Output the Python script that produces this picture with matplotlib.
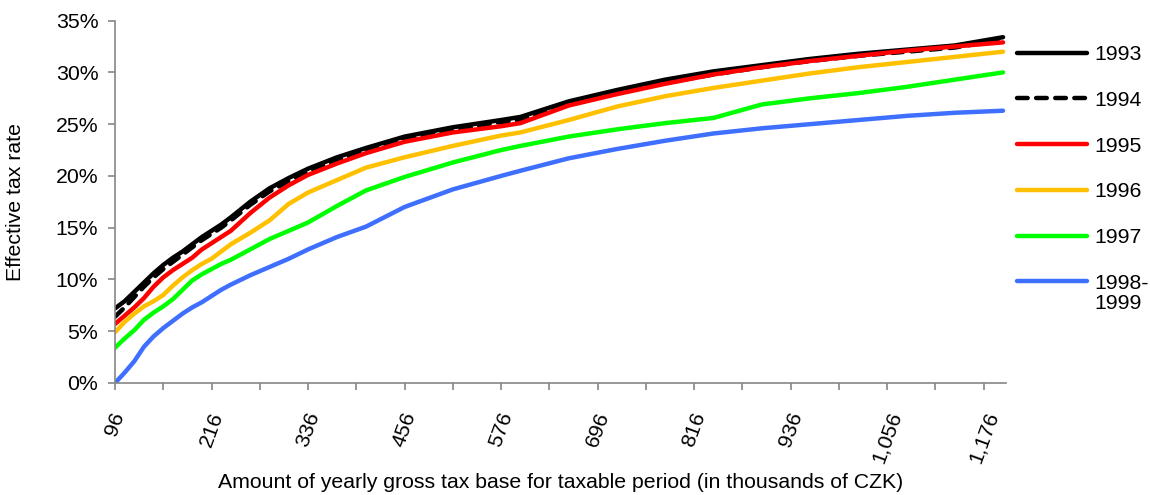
import matplotlib
matplotlib.use('Agg')
import matplotlib.pyplot as plt
from matplotlib.ticker import FuncFormatter

plt.rcParams['font.family'] = ['Liberation Sans', 'DejaVu Sans']

# taxable base, thousands of CZK
base = [96, 108, 120, 132, 144, 156, 168, 180, 192, 204, 216, 228, 240, 264, 288,
        312, 336, 372, 408, 456, 516, 576, 600, 660, 720, 780, 840, 900, 960,
        1020, 1080, 1140, 1200]

# effective tax rate, %
rate_1993 = [7.2, 7.9, 8.8, 9.7, 10.6, 11.4, 12.1, 12.7, 13.4, 14.1, 14.7, 15.3, 16.0,
             17.5, 18.8, 19.8, 20.7, 21.8, 22.7, 23.8, 24.7, 25.4, 25.7, 27.2, 28.3,
             29.3, 30.1, 30.7, 31.3, 31.8, 32.2, 32.6, 33.4]
rate_1994 = [6.4, 7.3, 8.3, 9.3, 10.2, 11.0, 11.7, 12.4, 13.1, 13.8, 14.4, 15.0, 15.7,
             17.2, 18.5, 19.5, 20.4, 21.5, 22.4, 23.5, 24.4, 25.2, 25.4, 26.9, 28.0,
             29.0, 29.8, 30.5, 31.1, 31.6, 32.0, 32.4, 33.2]
rate_1995 = [5.7, 6.5, 7.3, 8.2, 9.3, 10.2, 10.9, 11.5, 12.1, 12.9, 13.5, 14.1, 14.7,
             16.4, 17.9, 19.1, 20.1, 21.2, 22.2, 23.3, 24.2, 24.8, 25.1, 26.8, 27.9,
             28.9, 29.8, 30.5, 31.1, 31.6, 32.1, 32.5, 32.9]
rate_1996 = [4.9, 5.9, 6.7, 7.4, 7.9, 8.5, 9.4, 10.2, 10.9, 11.5, 12.0, 12.7, 13.4,
             14.5, 15.7, 17.3, 18.4, 19.6, 20.8, 21.8, 22.9, 23.9, 24.2, 25.4, 26.7,
             27.7, 28.5, 29.2, 29.9, 30.5, 31.0, 31.5, 32.0]
rate_1997 = [3.4, 4.3, 5.1, 6.1, 6.8, 7.4, 8.1, 9.0, 9.9, 10.5, 11.0, 11.5, 11.9,
             12.9, 13.9, 14.7, 15.5, 17.1, 18.6, 19.9, 21.3, 22.5, 22.9, 23.8, 24.5,
             25.1, 25.6, 26.9, 27.5, 28.0, 28.6, 29.3, 30.0]
rate_1998 = [0.0, 1.0, 2.1, 3.5, 4.5, 5.3, 6.0, 6.7, 7.3, 7.8, 8.4, 9.0, 9.5,
             10.4, 11.2, 12.0, 12.9, 14.1, 15.1, 17.0, 18.7, 20.0, 20.5, 21.7, 22.6,
             23.4, 24.1, 24.6, 25.0, 25.4, 25.8, 26.1, 26.3]

labels = ['1993', '1994', '1995', '1996', '1997', '1998-']
label_tail = '1999'
series = [rate_1993, rate_1994, rate_1995, rate_1996, rate_1997, rate_1998]
colors = ['#000000', '#000000', '#ff0000', '#ffc000', '#00ff00', '#3f6fff']

FS = 15.3

fig = plt.figure(figsize=(11.5, 4.95), dpi=100)
ax = fig.add_axes([0.1, 0.2263, 0.775, 0.732])

for lab, vals, c in zip(labels, series, colors):
    kw = dict(color=c, linewidth=3.2, solid_capstyle='round', solid_joinstyle='round')
    if lab == '1994':
        kw.update(linestyle=(0, (2.4, 1.9)), dash_capstyle='round')
    ax.plot(base, vals, label=lab, **kw)

ax.set_xlim(96, 1204)
ax.set_ylim(0, 35)
ax.set_yticks(range(0, 36, 5))
ax.yaxis.set_major_formatter(FuncFormatter(lambda v, p: f'{v:.0f}%'))

xt = list(range(96, 1204, 60))
ax.set_xticks(xt)
ax.set_xticklabels([f'{v:,}' if (v - 96) % 120 == 0 else '' for v in xt],
                   rotation=70, ha='center')

for s in ['top', 'right']:
    ax.spines[s].set_visible(False)
for s in ['left', 'bottom']:
    ax.spines[s].set_color('#868686')
    ax.spines[s].set_linewidth(1.2)
ax.tick_params(axis='both', colors='#868686', labelcolor='black', labelsize=FS,
               length=5, width=1.2, direction='out')
ax.tick_params(axis='x', pad=14)
ax.tick_params(axis='y', pad=7)

ax.set_xlabel('Amount of yearly gross tax base for taxable period (in thousands of CZK)',
              fontsize=FS, va='center')
ax.xaxis.set_label_coords(0.5, -0.276)
ax.set_ylabel('Effective tax rate', fontsize=FS, va='center')
ax.yaxis.set_label_coords(-0.112, 0.5)

leg = fig.legend(loc='upper left', bbox_to_anchor=(0.884, 0.909), frameon=False,
                 fontsize=FS, handlelength=3.3, handletextpad=0.34, labelspacing=1.26,
                 borderpad=0, borderaxespad=0)

# second line of the last legend label, set below its first line
fig.canvas.draw()
bb = leg.get_texts()[-1].get_window_extent().transformed(fig.transFigure.inverted())
fig.text(bb.x0, bb.y0 - 0.003, label_tail, fontsize=FS, ha='left', va='top')

fig.savefig('out.png', dpi=100)
